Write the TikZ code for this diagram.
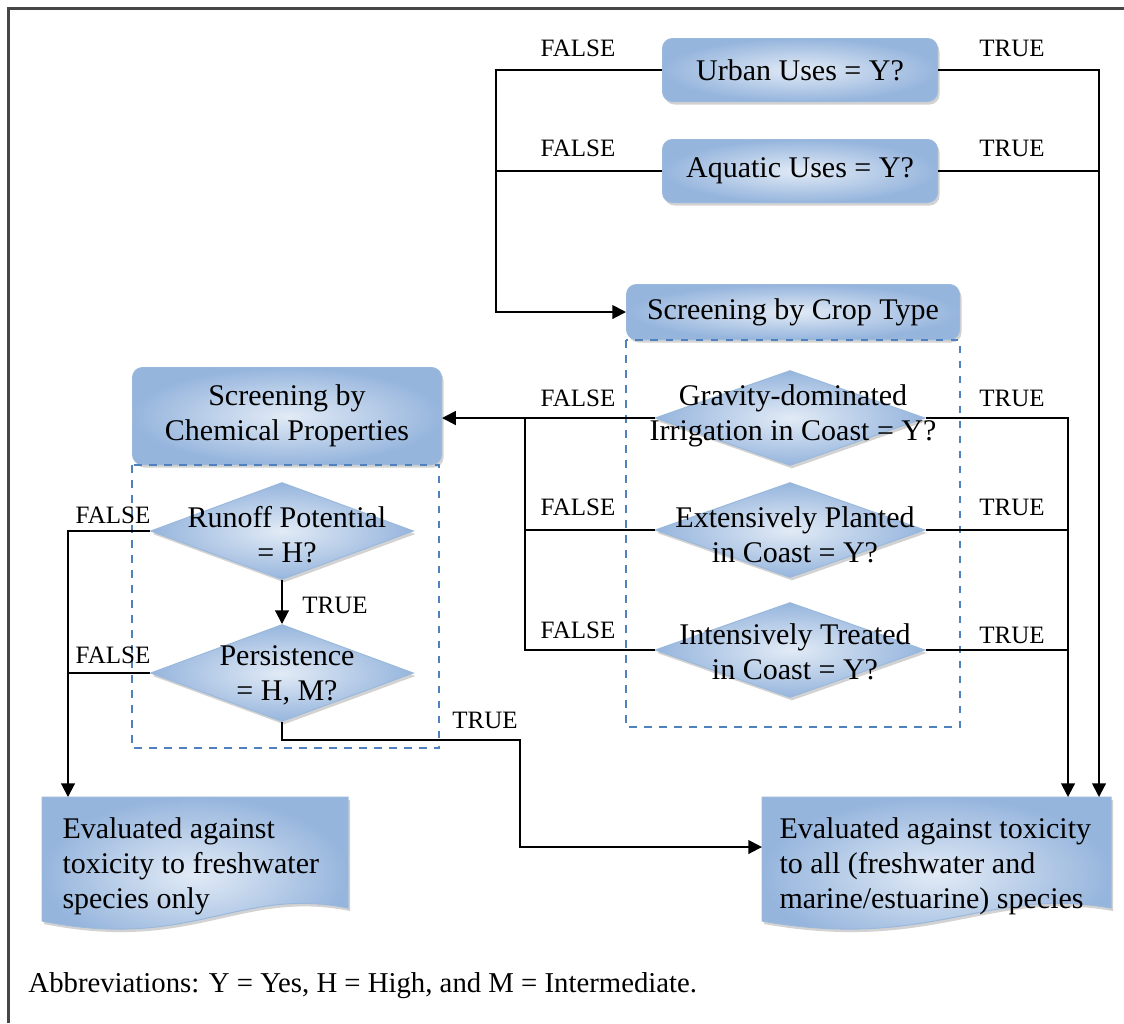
\documentclass[tikz,border=0pt]{standalone}
\usepackage{fontspec}
\setmainfont{Liberation Serif}
\usetikzlibrary{shapes.geometric,arrows.meta,shadows,calc}
\definecolor{boxlight}{RGB}{226,235,246}
\definecolor{boxdark}{RGB}{150,181,221}
\definecolor{boxedge}{RGB}{155,185,220}
\definecolor{dashblue}{RGB}{79,129,189}
\definecolor{framegray}{RGB}{70,70,70}
\begin{document}
\begin{tikzpicture}[x=0.4pt,y=-0.4pt,
  font=\fontsize{12}{14}\selectfont,
  shadowed/.style={drop shadow={opacity=0.35,shadow xshift=0.8pt,shadow yshift=-1.2pt}},
  shadefill/.style={inner color=boxlight, outer color=boxdark, draw=boxedge, line width=0.4pt},
  box/.style={shadefill, shadowed, rounded corners=4pt, align=center, inner sep=0pt},
  dia/.style={diamond, shadefill, shadowed, inner sep=0pt, minimum width=108pt, minimum height=38pt},
  diatext/.style={align=center, inner sep=0pt},
  docframe/.style={draw=none, inner sep=0pt, minimum width=122pt, minimum height=51.2pt},
  doctext/.style={align=left, inner sep=0pt, anchor=north west},
  lab/.style={font=\fontsize{10}{12}\selectfont, inner sep=0pt},
  conn/.style={draw=black, line width=0.8pt},
  arr/.style={conn, -{Triangle[length=5.5pt,width=5.5pt]}},
  dashbox/.style={draw=dashblue, dashed, line width=0.5pt}
]
\fill[white] (0,0) rectangle (1124,1023);
\useasboundingbox (0,0) rectangle (1124,1023);
\draw[framegray, line width=1.2pt] (8,1023) |- (1124,8);

% top boxes
\node[box, minimum width=110pt, minimum height=25.2pt] (urban) at (800,70) {Urban Uses = Y?};
\node[box, minimum width=110pt, minimum height=25.2pt] (aquatic) at (800,171) {Aquatic Uses = Y?};
\node[box, minimum width=133.2pt, minimum height=22pt] (crop) at (793,312) {Screening by Crop Type};
\node[box, minimum width=123.6pt, minimum height=38.8pt] (chem) at (287,416) {Screening by\\Chemical Properties};

% dashed groups
\draw[dashbox] (crop.south west) rectangle ($(crop.south east)+(0,387)$);
\draw[dashbox] (chem.south west) rectangle ($(chem.south east)+(-3,283)$);

% crop diamonds
\node[dia] (grav) at (790,418) {};
\node[diatext] (gravt) at (793,416) {Gravity-dominated\\Irrigation in Coast = Y?};
\node[dia] (ext) at (790,530) {};
\node[diatext] (extt) at (795,535) {Extensively Planted\\in Coast = Y?};
\node[dia] (int) at (790,650) {};
\node[diatext] (intt) at (795,652) {Intensively Treated\\in Coast = Y?};

% chem diamonds
\node[dia, minimum width=105.2pt, minimum height=38.8pt] (run) at (282,531) {};
\node[diatext] (runt) at (287,535) {Runoff Potential\\= H?};
\node[dia, minimum width=105.2pt, minimum height=38.8pt] (per) at (282,673) {};
\node[diatext] (pert) at (287,675) {Persistence\\= H, M?};

% document boxes
\node[docframe, anchor=north west] (ld) at (42,797) {};
\node[docframe, anchor=north west, minimum width=139.2pt] (rd) at (762,797) {};
\path[shadefill, shadowed] (ld.north west) -- (ld.north east) -- ($(ld.south east)+(0,-18)$)
  .. controls ($(ld.south east)+(-110,-40)$) and ($(ld.south west)+(150,25)$) .. ($(ld.south west)+(0,-5)$) -- cycle;
\path[shadefill, shadowed] (rd.north west) -- (rd.north east) -- ($(rd.south east)+(0,-18)$)
  .. controls ($(rd.south east)+(-125,-40)$) and ($(rd.south west)+(170,25)$) .. ($(rd.south west)+(0,-5)$) -- cycle;
\node[doctext] (ldt) at ($(ld.north west)+(20,20)$) {Evaluated against\\toxicity to freshwater\\species only};
\node[doctext] (rdt) at ($(rd.north west)+(17,20)$) {Evaluated against toxicity\\to all (freshwater and\\marine/estuarine) species};

% coordinates for routing
\coordinate (fx) at ($(crop.west)+(-130,0)$);
\coordinate (tx) at ($(rd.north east)+(-12,0)$);
\coordinate (cx) at (525,418);
\coordinate (ctx) at ($(rd.north east)+(-43,0)$);
\coordinate (lx) at ($(ld.north west)+(26,0)$);
\coordinate (pb) at (282,740);
\coordinate (pr) at (520,740);
\coordinate (rin) at ($(rd.north west)+(0,50)$);

% top connectors
\draw[arr] (urban.west) -| (fx) -- (crop.west);
\draw[conn] (aquatic.west) -- (aquatic.west -| fx);
\draw[arr] (urban.east) -| (tx);
\draw[conn] (aquatic.east) -- (aquatic.east -| tx);

% crop connectors
\draw[arr] (grav.west) -- (grav.west -| chem.east);
\draw[conn] (ext.west) -| (cx);
\draw[conn] (int.west) -| (cx);
\draw[arr] (grav.east) -| (ctx);
\draw[conn] (ext.east) -- (ext.east -| ctx);
\draw[conn] (int.east) -- (int.east -| ctx);

% chem connectors
\draw[arr] (run.south) -- (per.north);
\draw[arr] (run.west) -| (lx);
\draw[conn] (per.west) -- (per.west -| lx);
\draw[arr] (per.south) -- (pb) -- (pr) |- (rin);

% labels
\node[lab] (f1) at (578,48) {FALSE};
\node[lab] (f2) at (578,148) {FALSE};
\node[lab] (t1) at (1012,48) {TRUE};
\node[lab] (t2) at (1012,148) {TRUE};
\node[lab] (f3) at (578,398) {FALSE};
\node[lab] (f4) at (578,507) {FALSE};
\node[lab] (f5) at (578,630) {FALSE};
\node[lab] (t3) at (1012,398) {TRUE};
\node[lab] (t4) at (1012,507) {TRUE};
\node[lab] (t5) at (1012,635) {TRUE};
\node[lab] (f6) at (113,515) {FALSE};
\node[lab] (f7) at (113,655) {FALSE};
\node[lab] (t6) at (335,605) {TRUE};
\node[lab] (t7) at (485,720) {TRUE};

\node[anchor=west, inner sep=0pt, font=\fontsize{11.5}{14}\selectfont] (abbr) at (28,986) {Abbreviations: Y = Yes, H = High, and M = Intermediate.};
\end{tikzpicture}
\end{document}
